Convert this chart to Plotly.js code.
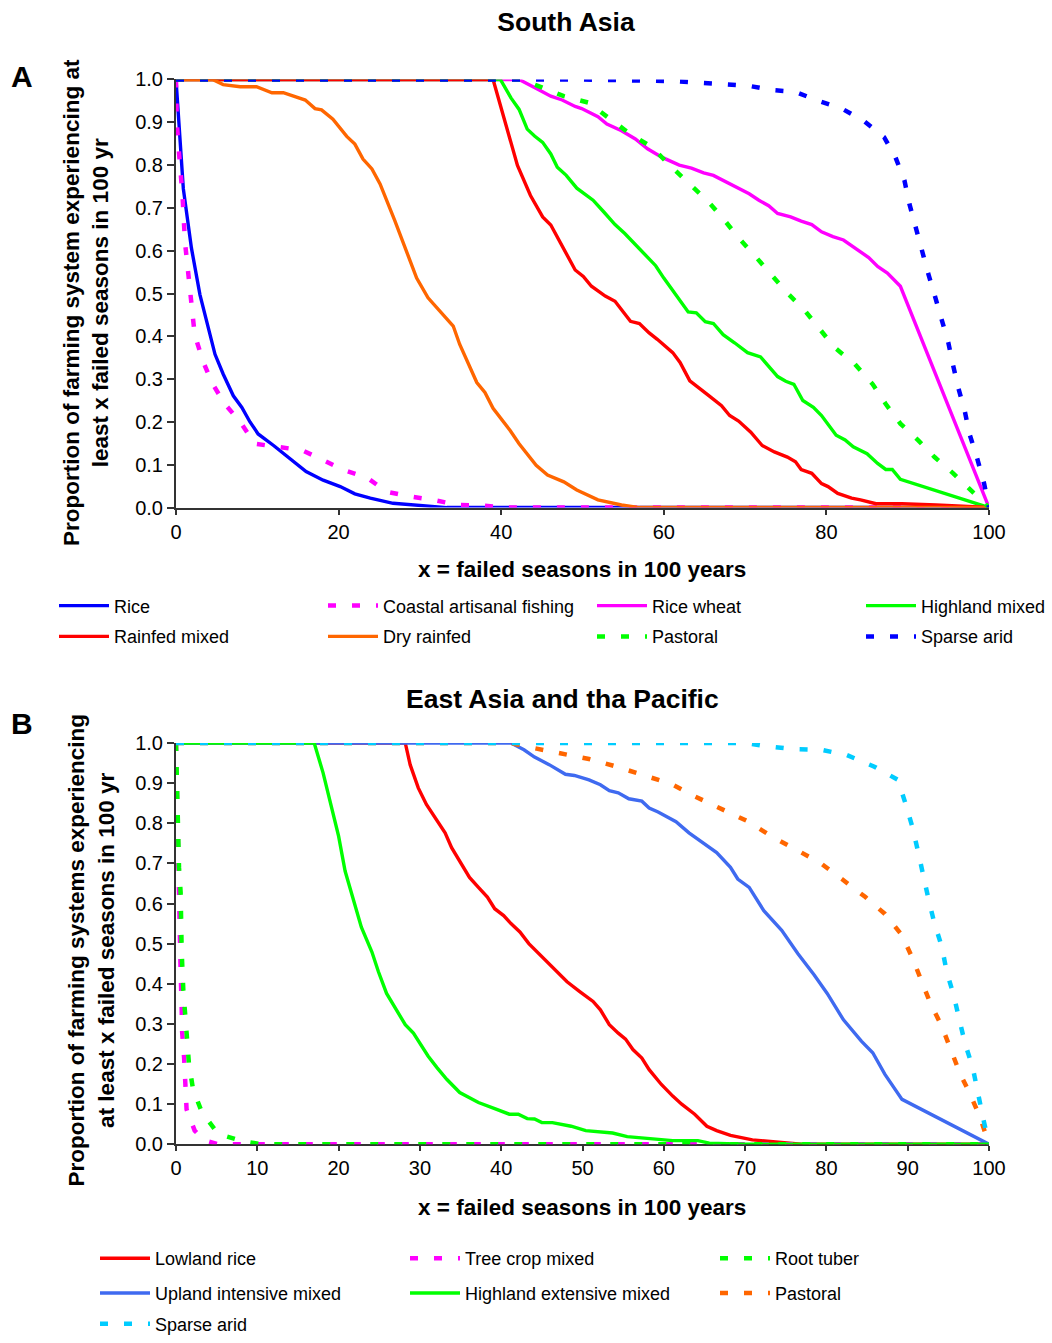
<!DOCTYPE html>
<html>
<head>
<meta charset="utf-8">
<script src="https://cdn.plot.ly/plotly-3.0.1.min.js"></script>
<style>html,body{margin:0;padding:0;background:#fff;}</style>
</head>
<body>
<div id="chart" style="width:1052px;height:1343px;"></div>
<script>
// ---------- Panel A: South Asia ----------
const saRiceX = [0,0.5,0.9,1.9,2.95,4.8,5.8,7.05,8.1,9.1,10.1,12,14,16,18.1,20.2,22,23.9,26.7,30,33.3,100];
const saRiceY = [1,0.854,0.745,0.606,0.497,0.358,0.312,0.261,0.234,0.2,0.172,0.145,0.114,0.084,0.064,0.049,0.032,0.022,0.01,0.005,0,0];
const saCoastalX = [0,0.1,0.3,0.6,0.8,1.1,1.7,2.3,3.3,4.4,6.0,7.9,9.7,12.4,15.5,18.1,20.6,23.5,25.9,28.8,31.6,34.7,37.5,40.4,100];
const saCoastalY = [1,0.9,0.845,0.787,0.729,0.621,0.513,0.404,0.343,0.292,0.242,0.2,0.149,0.142,0.134,0.111,0.088,0.07,0.037,0.026,0.018,0.006,0.005,0,0];
const saRiceWheatX = [0,42.2,44.5,46.1,47.5,49.1,49.9,51.9,53.0,54.8,56.5,58.0,59.8,61.9,63.4,64.9,66.1,67.3,68.9,70.5,71.7,72.9,74.0,75.6,76.9,78.2,79.4,80.8,82.1,83.5,85.2,86.3,87.5,89.1,100];
const saRiceWheatY = [1,1,0.977,0.961,0.952,0.937,0.932,0.913,0.896,0.88,0.861,0.838,0.818,0.8,0.793,0.782,0.776,0.764,0.749,0.733,0.718,0.705,0.687,0.679,0.669,0.661,0.644,0.633,0.625,0.606,0.584,0.563,0.548,0.517,0];
const saHighlandX = [0,39.9,41.2,42.2,43.2,44.1,45.1,46.1,46.9,48.0,49.3,50.3,51.3,52.6,54.0,55.2,56.4,57.8,59.0,60.0,61.3,63.0,64.0,65.1,66.1,67.3,68.7,70.3,71.9,74.0,75.0,76.0,77.1,78.4,79.4,81.2,82.3,83.3,85.0,86.3,87.3,88.1,89.1,100];
const saHighlandY = [1,1,0.957,0.93,0.884,0.868,0.853,0.826,0.795,0.776,0.746,0.733,0.718,0.691,0.661,0.64,0.617,0.59,0.565,0.536,0.501,0.457,0.455,0.434,0.43,0.404,0.385,0.362,0.352,0.306,0.295,0.288,0.25,0.234,0.215,0.169,0.158,0.142,0.126,0.103,0.089,0.089,0.066,0];
const saRainfedX = [0,39.0,42.0,43.6,45.1,46.1,49.1,50.1,51.1,52.8,54.0,55.9,57.0,58.2,59.2,61.1,62.0,63.2,65.3,67.1,68.1,69.2,70.7,72.1,73.6,75.2,76.2,76.9,78.2,79.4,80.2,81.4,83.1,84.2,86.1,89.3,93.5,100];
const saRainfedY = [1,1,0.799,0.729,0.679,0.66,0.555,0.54,0.517,0.494,0.482,0.435,0.43,0.408,0.393,0.362,0.339,0.296,0.265,0.238,0.215,0.202,0.176,0.145,0.13,0.118,0.107,0.089,0.08,0.056,0.049,0.033,0.022,0.018,0.009,0.009,0.006,0];
const saDryX = [0,4.5,5.8,7.9,9.9,11.8,13.2,15.9,17.1,17.9,19.3,21.0,22.0,23.0,24.1,25.1,26.9,28.2,29.6,31.0,32.5,34.1,34.9,37.0,38.0,39.0,41.1,42.2,44.3,45.7,47.7,49.3,51.9,54.8,57.0,100];
const saDryY = [1,1,0.988,0.983,0.983,0.969,0.969,0.952,0.932,0.929,0.907,0.867,0.849,0.814,0.791,0.756,0.671,0.606,0.536,0.49,0.459,0.424,0.381,0.292,0.269,0.232,0.18,0.149,0.099,0.076,0.06,0.041,0.018,0.006,0,0];
const saPastoralX = [0,42.5,44.5,47.7,50.7,53.2,55.7,58.6,60.7,63.0,65.3,67.3,69.2,71.3,73.2,75.2,77.4,79.2,81.0,83.5,85.7,87.3,89.1,91.3,93.3,95.6,98.1,100];
const saPastoralY = [1,1,0.985,0.961,0.946,0.911,0.875,0.841,0.8,0.759,0.718,0.675,0.63,0.586,0.544,0.501,0.459,0.416,0.374,0.335,0.288,0.242,0.196,0.157,0.118,0.08,0.033,0];
const saSparseX = [0,50,61.1,64.4,67.3,70.5,73.4,76.2,79.0,81.9,84.6,87.1,88.5,89.6,90.2,91.0,91.7,92.5,93.3,94.2,95.0,95.6,96.2,97.0,97.6,98.5,99.4,100];
const saSparseY = [1,1,0.996,0.992,0.988,0.985,0.975,0.971,0.95,0.932,0.903,0.865,0.818,0.764,0.71,0.652,0.602,0.548,0.497,0.439,0.385,0.331,0.281,0.227,0.172,0.118,0.056,0];

// ---------- Panel B: East Asia and the Pacific ----------
const eaLowlandX = [0,28.2,28.8,29.8,30.8,32.1,33.1,33.9,34.9,36.1,37.2,38.3,39.2,40.3,41.2,42.3,43.4,45.0,46.6,48.1,49.7,51.3,52.2,53.3,54.4,55.3,56.2,57.3,58.2,59.7,61.1,62.2,63.8,65.3,66.5,68.2,70.9,73.6,75.8,76.9,100];
const eaLowlandY = [1,1,0.946,0.888,0.847,0.805,0.776,0.739,0.705,0.665,0.64,0.616,0.587,0.57,0.55,0.529,0.5,0.467,0.434,0.405,0.38,0.356,0.335,0.298,0.277,0.262,0.236,0.215,0.186,0.149,0.12,0.1,0.075,0.045,0.034,0.022,0.011,0.006,0.003,0,0];
const eaTreeX = [0,0.1,0.16,0.3,0.37,0.57,0.7,0.75,1.0,1.1,1.3,2.3,3.5,5.2,100];
const eaTreeY = [1,0.88,0.764,0.68,0.55,0.43,0.339,0.281,0.215,0.149,0.087,0.034,0.01,0,0];
const eaRootX = [0,0.1,0.16,0.3,0.37,0.57,0.6,0.7,0.9,1.1,1.3,1.6,2.1,3.2,5.2,8.3,10.6,100];
const eaRootY = [1,0.9,0.809,0.752,0.69,0.628,0.566,0.48,0.384,0.323,0.261,0.199,0.137,0.079,0.026,0.007,0,0];
const eaUplandX = [0,41.2,42.8,44.1,45.9,47.9,49.0,50.8,52.2,53.3,54.4,55.7,57.3,58.2,59.3,60.4,61.5,63.1,64.7,66.5,68.2,69.1,70.5,72.3,74.5,76.5,78.5,80.1,82.1,84.3,85.7,87.2,89.3,100];
const eaUplandY = [1,1,0.983,0.965,0.946,0.922,0.919,0.908,0.896,0.881,0.876,0.861,0.855,0.838,0.828,0.815,0.804,0.776,0.752,0.727,0.69,0.661,0.64,0.582,0.533,0.475,0.422,0.376,0.31,0.257,0.228,0.174,0.112,0];
const eaHighlandX = [0,17.0,18.1,19.2,20.0,20.8,21.8,22.8,24.1,24.9,25.9,27.1,28.2,29.2,30.2,31.0,32.1,33.3,34.9,35.8,37.2,39.2,41.0,42.1,43.2,44.1,45.0,46.3,48.6,50.4,52.2,53.7,55.5,57.5,59.3,61.1,64.2,65.6,70,100];
const eaHighlandY = [1,1,0.925,0.83,0.768,0.681,0.611,0.541,0.479,0.43,0.376,0.335,0.298,0.277,0.244,0.22,0.191,0.162,0.129,0.12,0.104,0.089,0.075,0.075,0.064,0.063,0.054,0.054,0.045,0.034,0.031,0.028,0.019,0.015,0.012,0.009,0.009,0.003,0,0];
const eaPastoralX = [0,41.2,44.1,47.7,50.8,54.2,57.5,60.9,63.8,66.9,70.3,73.2,76.3,79.2,81.9,84.8,87.2,89.3,90.6,91.7,92.8,94.2,95.3,96.4,97.7,98.9,100];
const eaPastoralY = [1,1,0.987,0.974,0.96,0.941,0.919,0.898,0.867,0.838,0.805,0.768,0.735,0.702,0.661,0.616,0.574,0.521,0.463,0.405,0.351,0.294,0.232,0.178,0.124,0.067,0];
const eaSparseX = [0,70,72.3,75.8,79.4,82.5,85.9,88.8,89.7,90.6,91.3,91.9,92.6,93.3,94.2,94.8,95.7,96.4,97.1,98.0,98.6,99.3,100];
const eaSparseY = [1,1,0.993,0.985,0.983,0.97,0.941,0.908,0.851,0.789,0.727,0.665,0.607,0.55,0.492,0.43,0.368,0.306,0.248,0.191,0.129,0.063,0];

const F = 'Liberation Sans, Arial, sans-serif';
const DASH = '8px,16px';
const W = 1052, H = 1343;
const px = v => v / W;          // paper x from pixel
const py = v => 1 - v / H;      // paper y from pixel

function tr(name, x, y, color, dashed, xa, ya, legend, lw) {
  return {
    type: 'scatter', mode: 'lines', name: name, x: x, y: y,
    xaxis: xa, yaxis: ya, legend: legend, legendwidth: lw,
    cliponaxis: false,
    line: {color: color, width: dashed ? 4.5 : 3.4, dash: dashed ? DASH : 'solid'},
    hoverinfo: 'skip'
  };
}

const TOPW = 204, BOTW = 245;
const data = [
  tr('Rice', saRiceX, saRiceY, '#0000FF', false, 'x', 'y', 'legend', TOPW),
  tr('Coastal artisanal fishing', saCoastalX, saCoastalY, '#FF00FF', true, 'x', 'y', 'legend', TOPW),
  tr('Rice wheat', saRiceWheatX, saRiceWheatY, '#FF00FF', false, 'x', 'y', 'legend', TOPW),
  tr('Highland mixed', saHighlandX, saHighlandY, '#00FF00', false, 'x', 'y', 'legend', 120),
  tr('Rainfed mixed', saRainfedX, saRainfedY, '#FF0000', false, 'x', 'y', 'legend2', TOPW),
  tr('Dry rainfed', saDryX, saDryY, '#FF6600', false, 'x', 'y', 'legend2', TOPW),
  tr('Pastoral', saPastoralX, saPastoralY, '#00FF00', true, 'x', 'y', 'legend2', TOPW),
  tr('Sparse arid', saSparseX, saSparseY, '#0000FF', true, 'x', 'y', 'legend2', 120),

  tr('Lowland rice', eaLowlandX, eaLowlandY, '#FF0000', false, 'x2', 'y2', 'legend3', BOTW),
  tr('Tree crop mixed', eaTreeX, eaTreeY, '#FF00FF', true, 'x2', 'y2', 'legend3', BOTW),
  tr('Root tuber', eaRootX, eaRootY, '#00FF00', true, 'x2', 'y2', 'legend3', 150),
  tr('Upland intensive mixed', eaUplandX, eaUplandY, '#3F6AF0', false, 'x2', 'y2', 'legend4', BOTW),
  tr('Highland extensive mixed', eaHighlandX, eaHighlandY, '#00FF00', false, 'x2', 'y2', 'legend4', BOTW),
  tr('Pastoral', eaPastoralX, eaPastoralY, '#FF6600', true, 'x2', 'y2', 'legend4', 150),
  tr('Sparse arid', eaSparseX, eaSparseY, '#00CCFF', true, 'x2', 'y2', 'legend5', BOTW)
];

function xax(dom, anchor, dtick) {
  return {
    domain: dom, anchor: anchor, range: [0, 100], dtick: dtick, tick0: 0,
    ticks: 'outside', ticklen: 5, tickwidth: 2, tickcolor: '#333',
    showline: true, linecolor: '#333', linewidth: 2,
    showgrid: false, zeroline: false, layer: 'below traces',
    tickfont: {family: F, size: 20, color: '#000'}, fixedrange: true
  };
}
function yax(dom, anchor) {
  return {
    domain: dom, anchor: anchor, range: [0, 1], dtick: 0.1, tick0: 0, tickformat: '.1f',
    ticks: 'outside', ticklen: 7, tickwidth: 2, tickcolor: '#333',
    showline: true, linecolor: '#333', linewidth: 2,
    showgrid: false, zeroline: false, layer: 'below traces',
    tickfont: {family: F, size: 20, color: '#000'}, fixedrange: true
  };
}
function leg(xpix, ypix) {
  return {
    orientation: 'h', x: px(xpix), y: py(ypix), xanchor: 'left', yanchor: 'middle',
    xref: 'paper', yref: 'paper', itemwidth: 50, bgcolor: 'rgba(0,0,0,0)',
    borderwidth: 0, font: {family: F, size: 18, color: '#000'}, traceorder: 'normal',
    itemclick: false, itemdoubleclick: false
  };
}

const XD = [px(176), px(989)];
const layout = {
  width: W, height: H,
  margin: {l: 0, r: 0, t: 0, b: 0},
  paper_bgcolor: '#fff', plot_bgcolor: '#fff',
  font: {family: F, color: '#000'},
  showlegend: true,
  title: {text: 'South Asia', x: px(566), xanchor: 'center', y: py(22), yanchor: 'middle',
          font: {family: F, size: 26.5, weight: 'bold', color: '#000'}},
  xaxis: xax(XD, 'y', 20),
  yaxis: yax([py(511), py(80)], 'x'),
  xaxis2: xax(XD, 'y2', 10),
  yaxis2: yax([py(1152), py(748)], 'x2'),
  legend: leg(54, 610),
  legend2: leg(54, 641),
  legend3: leg(95, 1267),
  legend4: leg(95, 1302),
  legend5: leg(95, 1333),
  annotations: [
    {text: 'A', x: px(22), y: py(77), xref: 'paper', yref: 'paper', showarrow: false,
     xanchor: 'center', yanchor: 'middle', font: {family: F, size: 30, weight: 'bold', color: '#000'}},
    {text: 'B', x: px(22), y: py(728), xref: 'paper', yref: 'paper', showarrow: false,
     xanchor: 'center', yanchor: 'middle', font: {family: F, size: 30, weight: 'bold', color: '#000'}},
    {text: 'East Asia and tha Pacific', x: px(562), y: py(704), xref: 'paper', yref: 'paper', showarrow: false,
     xanchor: 'center', yanchor: 'middle', font: {family: F, size: 26.5, weight: 'bold', color: '#000'}},
    {text: 'x = failed seasons in 100 years', x: px(582), y: py(573), xref: 'paper', yref: 'paper', showarrow: false,
     xanchor: 'center', yanchor: 'middle', font: {family: F, size: 22.5, weight: 'bold', color: '#000'}},
    {text: 'x = failed seasons in 100 years', x: px(582), y: py(1216), xref: 'paper', yref: 'paper', showarrow: false,
     xanchor: 'center', yanchor: 'middle', font: {family: F, size: 22.5, weight: 'bold', color: '#000'}},
    {text: 'Proportion of farming system experiencing at<br>least x failed seasons in 100 yr',
     x: px(86), y: py(305), xref: 'paper', yref: 'paper', showarrow: false, textangle: -90,
     xanchor: 'center', yanchor: 'middle', align: 'center',
     font: {family: F, size: 22.5, weight: 'bold', color: '#000'}},
    {text: 'Proportion of farming systems experiencing<br>at least x failed seasons in 100 yr',
     x: px(91), y: py(957), xref: 'paper', yref: 'paper', showarrow: false, textangle: -90,
     xanchor: 'center', yanchor: 'middle', align: 'center',
     font: {family: F, size: 22.5, weight: 'bold', color: '#000'}}
  ]
};

Plotly.newPlot('chart', data, layout, {staticPlot: true, displayModeBar: false});
</script>
</body>
</html>
